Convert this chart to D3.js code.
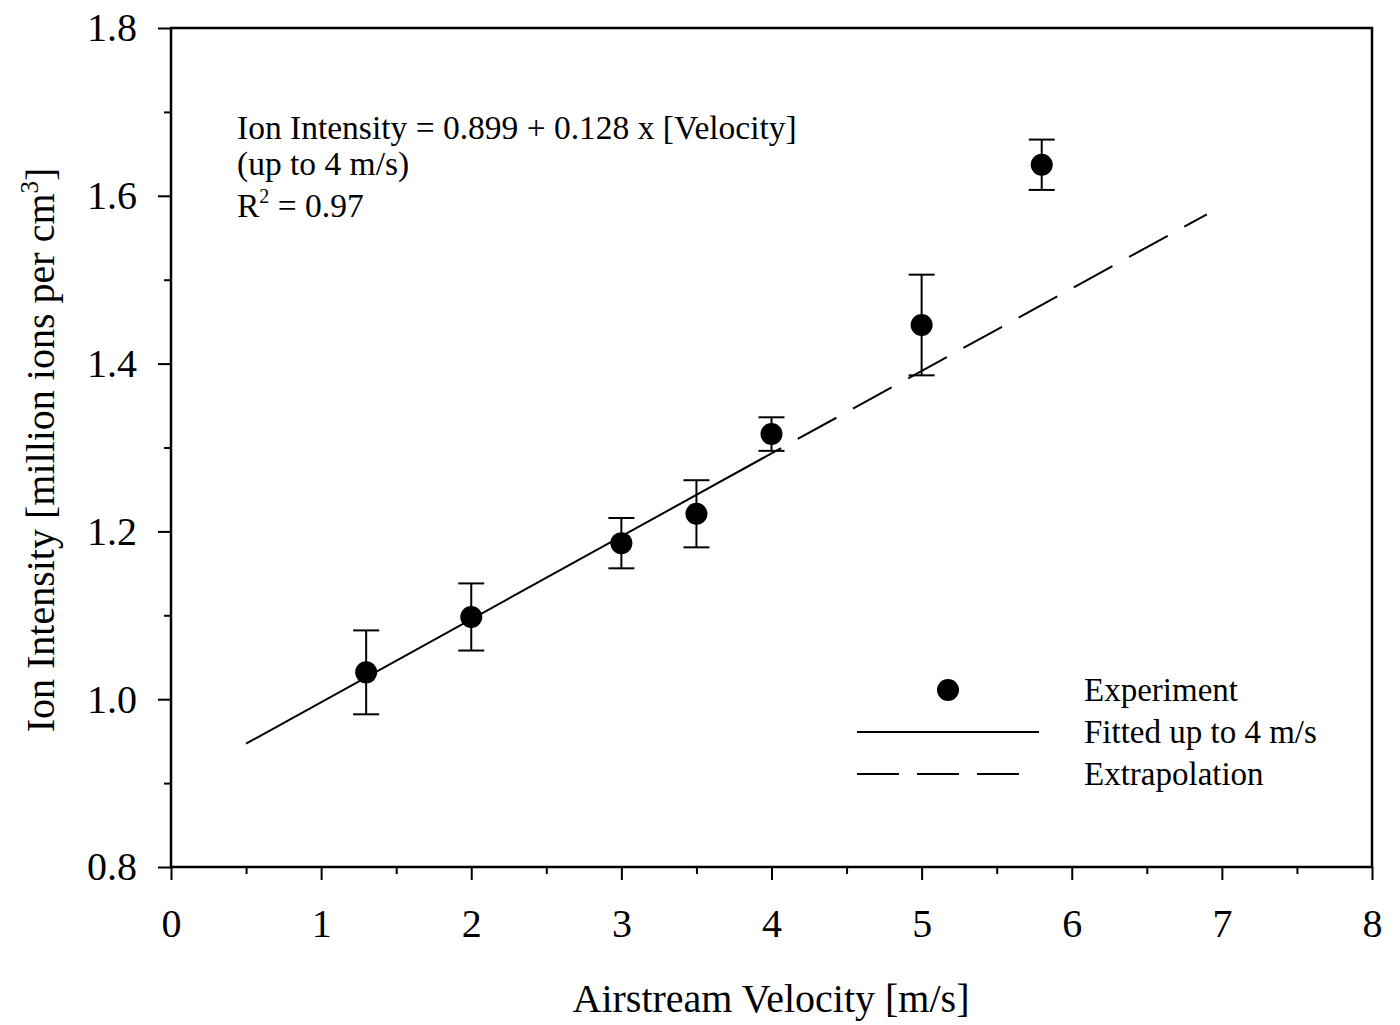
<!DOCTYPE html>
<html lang="en">
<head>
<meta charset="UTF-8">
<title>Ion Intensity vs Airstream Velocity</title>
<script src="https://cdn.jsdelivr.net/npm/d3@7"></script>
<style>
  body { margin: 0; background: #fff; }
  svg text { font-family: "Liberation Serif", "Times New Roman", serif; fill: #000; }
</style>
</head>
<body>
<div id="chart"></div>
<script>
// measured points (velocity m/s, intensity, error)
const velocity  = [1.3, 2.0, 3.0, 3.5, 4.0, 5.0, 5.8];
const intensity = [1.032, 1.098, 1.186, 1.221, 1.316, 1.446, 1.637];
const errors    = [0.05, 0.04, 0.03, 0.04, 0.02, 0.06, 0.03];

// fitted line as drawn, and its extrapolation
const fitLine   = [[0.5, 0.947], [4.0, 1.293]];
const extraLine = [[4.0, 1.293], [6.9, 1.578]];

const xTicks = [0, 1, 2, 3, 4, 5, 6, 7, 8];
const yTicks = [0.8, 1.0, 1.2, 1.4, 1.6, 1.8];
const xMinor = [0.5, 1.5, 2.5, 3.5, 4.5, 5.5, 6.5, 7.5];
const yMinor = [0.9, 1.1, 1.3, 1.5, 1.7];

const W = 1400, H = 1025;
const m = { left: 171, right: 28, top: 28, bottom: 158 };

const svg = d3.select("#chart").append("svg")
    .attr("width", W).attr("height", H);

const x = d3.scaleLinear().domain([0, 8]).range([m.left, W - m.right]);
const y = d3.scaleLinear().domain([0.8, 1.8]).range([H - m.bottom, m.top]);

// frame
svg.append("rect")
    .attr("x", x(0)).attr("y", y(1.8))
    .attr("width", x(8) - x(0)).attr("height", y(0.8) - y(1.8))
    .attr("fill", "none").attr("stroke", "#000").attr("stroke-width", 2.5);

// axes
svg.append("g").attr("transform", `translate(0,${y(0.8)})`)
    .call(d3.axisBottom(x).tickValues(xTicks).tickFormat(d3.format("d")).tickSize(13).tickPadding(29));
svg.append("g").attr("transform", `translate(0,${y(0.8)})`)
    .call(d3.axisBottom(x).tickValues(xMinor).tickFormat("").tickSize(7));

svg.append("g").attr("transform", `translate(${x(0)},0)`)
    .call(d3.axisLeft(y).tickValues(yTicks).tickFormat(d3.format(".1f")).tickSize(13).tickPadding(21));
svg.append("g").attr("transform", `translate(${x(0)},0)`)
    .call(d3.axisLeft(y).tickValues(yMinor).tickFormat("").tickSize(7));

svg.selectAll(".domain").attr("stroke", "none");
svg.selectAll(".tick line").attr("stroke", "#000").attr("stroke-width", 2);
svg.selectAll(".tick text").style("font-family", '"Liberation Serif", serif')
    .attr("font-size", 40).attr("fill", "#000");

// axis titles
svg.append("text")
    .attr("x", 771).attr("y", 1012)
    .attr("text-anchor", "middle").attr("font-size", 40)
    .text("Airstream Velocity [m/s]");

const yt = svg.append("text")
    .attr("transform", `translate(54,${450}) rotate(-90)`)
    .attr("text-anchor", "middle").attr("font-size", 40);
yt.append("tspan").text("Ion Intensity [million ions per cm");
yt.append("tspan").attr("dy", -16).attr("font-size", 25).text("3");
yt.append("tspan").attr("dy", 16).text("]");

// lines
const line = d3.line().x(d => x(d[0])).y(d => y(d[1]));
svg.append("path").datum(fitLine).attr("d", line)
    .attr("fill", "none").attr("stroke", "#000").attr("stroke-width", 2);
svg.append("path").datum(extraLine).attr("d", line)
    .attr("fill", "none").attr("stroke", "#000").attr("stroke-width", 2)
    .attr("stroke-dasharray", "44,19").attr("stroke-dashoffset", -30);

// error bars and points
const pts = velocity.map((v, i) => ({ v, y: intensity[i], e: errors[i] }));
const eb = svg.append("g").attr("stroke", "#000").attr("stroke-width", 2);
pts.forEach(d => {
    eb.append("line").attr("x1", x(d.v)).attr("x2", x(d.v))
        .attr("y1", y(d.y - d.e)).attr("y2", y(d.y + d.e));
    [d.y - d.e, d.y + d.e].forEach(yy => {
        eb.append("line").attr("x1", x(d.v) - 13).attr("x2", x(d.v) + 13)
            .attr("y1", y(yy)).attr("y2", y(yy));
    });
});
svg.append("g").selectAll("circle").data(pts).enter().append("circle")
    .attr("cx", d => x(d.v)).attr("cy", d => y(d.y)).attr("r", 11)
    .attr("fill", "#000");

// equation annotation
const ann = svg.append("text").attr("x", 237).attr("y", 139).attr("font-size", 33.5);
ann.append("tspan").attr("x", 237).text("Ion Intensity = 0.899 + 0.128 x [Velocity]");
ann.append("tspan").attr("x", 237).attr("dy", 36).text("(up to 4 m/s)");
ann.append("tspan").attr("x", 237).attr("dy", 42).text("R");
ann.append("tspan").attr("dy", -14).attr("font-size", 20).text("2");
ann.append("tspan").attr("dy", 14).text(" = 0.97");

// legend
const lg = svg.append("g");
lg.append("circle").attr("cx", 948).attr("cy", 690).attr("r", 11).attr("fill", "#000");
lg.append("line").attr("x1", 857).attr("x2", 1039).attr("y1", 732).attr("y2", 732)
    .attr("stroke", "#000").attr("stroke-width", 2);
lg.append("line").attr("x1", 857).attr("x2", 1022).attr("y1", 774).attr("y2", 774)
    .attr("stroke", "#000").attr("stroke-width", 2).attr("stroke-dasharray", "42,18");
const lgText = ["Experiment", "Fitted up to 4 m/s", "Extrapolation"];
lg.selectAll("text.lg").data(lgText).enter().append("text")
    .attr("x", 1084).attr("y", (d, i) => 701 + i * 42)
    .attr("font-size", 33).text(d => d);
</script>
</body>
</html>
